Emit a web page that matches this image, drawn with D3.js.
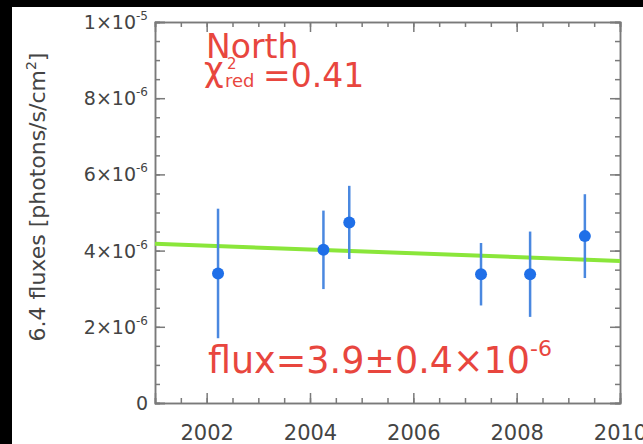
<!DOCTYPE html><html><head><meta charset="UTF-8"><script src="https://d3js.org/d3.v7.min.js"></script><style>
            body { margin: 0; background: #000; }
            #chart { width: 643px; height: 444px; font-family: "DejaVu Sans", sans-serif; }
            .axis path, .axis line { stroke: #7a7a7a; stroke-width: 1.5; }
            .axis text { fill: #444; font-family: "DejaVu Sans", sans-serif; }
            .note { fill: #e8463e; font-family: "DejaVu Sans", sans-serif; }
        </style></head><body><div id="chart"></div><script>
            // observation epochs (decimal year) and 6.4 keV line fluxes
            const years = [2002.22, 2004.26, 2004.76, 2007.31, 2008.26, 2009.32];
            const fluxes = [3.40e-6, 4.02e-6, 4.74e-6, 3.38e-6, 3.38e-6, 4.38e-6];
            const errors = [1.70e-6, 1.03e-6, 0.96e-6, 0.82e-6, 1.12e-6, 1.10e-6];
            // best-fit line end points
            const fitYears = [2001, 2010];
            const fitFluxes = [4.18e-6, 3.73e-6];
            const xTickLabels = [2002, 2004, 2006, 2008, 2010];
            const yTickValues = [0, 2e-6, 4e-6, 6e-6, 8e-6, 1e-5];
            const yTickMantissa = ['0', '2', '4', '6', '8', '1'];
            const yTickExponent = ['', '-6', '-6', '-6', '-6', '-5'];

            const margin = {top: 22, right: 23, bottom: 41, left: 155};
            const fullWidth = 643;
            const fullHeight = 444;
            const width = fullWidth - margin.left - margin.right;
            const height = fullHeight - margin.top - margin.bottom;

            const root = d3.select('#chart')
                .append('svg')
                .attr('width', fullWidth)
                .attr('height', fullHeight);

            root.append('rect')
                .attr('x', 12).attr('y', 7)
                .attr('width', fullWidth - 12).attr('height', fullHeight - 7)
                .attr('fill', '#fff');

            const svg = root.append('g')
                .attr('transform', `translate(${margin.left},${margin.top})`);

            const x = d3.scaleLinear().domain([2001, 2010]).range([0, width]);
            const y = d3.scaleLinear().domain([0, 1e-5]).range([height, 0]);

            const xMinor = d3.range(2001, 2010.01, 0.5);
            const yMinor = d3.range(0, 1.0001e-5, 5e-7);

            // minor ticks on all four sides
            svg.append('g').attr('class', 'axis').attr('transform', `translate(0,${height})`)
                .call(d3.axisBottom(x).tickValues(xMinor).tickSize(-5).tickFormat(''));
            svg.append('g').attr('class', 'axis')
                .call(d3.axisTop(x).tickValues(xMinor).tickSize(-5).tickFormat(''));
            svg.append('g').attr('class', 'axis')
                .call(d3.axisLeft(y).tickValues(yMinor).tickSize(-5).tickFormat(''));
            svg.append('g').attr('class', 'axis').attr('transform', `translate(${width},0)`)
                .call(d3.axisRight(y).tickValues(yMinor).tickSize(-5).tickFormat(''));

            // major ticks
            svg.append('g').attr('class', 'axis').attr('transform', `translate(0,${height})`)
                .call(d3.axisBottom(x).tickValues(xTickLabels).tickSize(-10).tickPadding(22).tickFormat(d3.format('d')))
                .selectAll('text').style('font-size', '21px');
            svg.append('g').attr('class', 'axis')
                .call(d3.axisTop(x).tickValues(xTickLabels).tickSize(-10).tickFormat(''));
            svg.append('g').attr('class', 'axis')
                .call(d3.axisLeft(y).tickValues(yTickValues).tickSize(-10).tickFormat(''));
            svg.append('g').attr('class', 'axis').attr('transform', `translate(${width},0)`)
                .call(d3.axisRight(y).tickValues(yTickValues).tickSize(-10).tickFormat(''));

            // y tick labels with exponents
            yTickValues.forEach((v, i) => {
                const t = svg.append('text')
                    .attr('x', -7)
                    .attr('y', y(v) + 7)
                    .attr('text-anchor', 'end')
                    .attr('fill', '#444')
                    .style('font-size', '19px');
                if (yTickExponent[i]) {
                    t.append('tspan').text(yTickMantissa[i] + '×10');
                    t.append('tspan').attr('dy', -9).style('font-size', '12px').text(yTickExponent[i]);
                } else {
                    t.text(yTickMantissa[i]);
                }
            });

            // y axis title
            const yt = root.append('text')
                .attr('transform', `translate(45,197) rotate(-90)`)
                .attr('text-anchor', 'middle')
                .attr('fill', '#444')
                .style('font-size', '22px');
            yt.append('tspan').text('6.4 fluxes [photons/s/cm');
            yt.append('tspan').attr('dy', -9).style('font-size', '14px').text('2');
            yt.append('tspan').attr('dy', 9).text(']');

            // fit line
            svg.append('line')
                .attr('x1', x(fitYears[0])).attr('y1', y(fitFluxes[0]))
                .attr('x2', x(fitYears[1])).attr('y2', y(fitFluxes[1]))
                .attr('stroke', '#8ae63a')
                .attr('stroke-width', 4);

            // error bars and points
            const pts = svg.append('g').selectAll('g')
                .data(years.map((yr, i) => ({yr, f: fluxes[i], e: errors[i]})))
                .enter().append('g');
            pts.append('line')
                .attr('x1', d => x(d.yr)).attr('x2', d => x(d.yr))
                .attr('y1', d => y(d.f - d.e)).attr('y2', d => y(d.f + d.e))
                .attr('stroke', '#4a88e0').attr('stroke-width', 2.5);
            pts.append('circle')
                .attr('cx', d => x(d.yr)).attr('cy', d => y(d.f))
                .attr('r', 6)
                .attr('fill', '#1f6fe8');

            // annotations
            svg.append('text').attr('class', 'note')
                .attr('x', 51).attr('y', 36)
                .style('font-size', '33px')
                .text('North');
            svg.append('text').attr('class', 'note')
                .attr('x', 49).attr('y', 59)
                .style('font-size', '34px')
                .text('χ');
            svg.append('text').attr('class', 'note')
                .attr('x', 72).attr('y', 47)
                .style('font-size', '15px')
                .text('2');
            svg.append('text').attr('class', 'note')
                .attr('x', 70).attr('y', 65)
                .style('font-size', '18px')
                .text('red');
            svg.append('text').attr('class', 'note')
                .attr('x', 108).attr('y', 65)
                .style('font-size', '33px')
                .text('=0.41');

            const fl = svg.append('text').attr('class', 'note')
                .attr('x', 53).attr('y', 351)
                .style('font-size', '36.5px');
            fl.append('tspan').text('flux=3.9±0.4×10');
            fl.append('tspan').attr('dy', -17).style('font-size', '22px').text('-6');
        </script></body></html>
